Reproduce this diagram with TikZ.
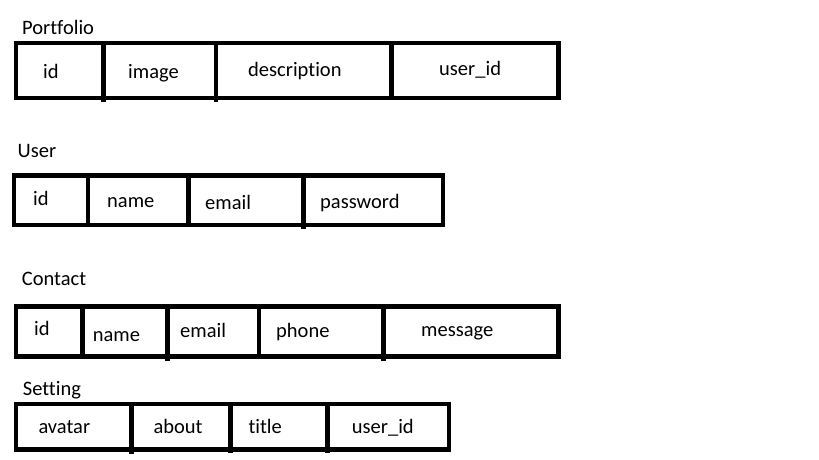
\documentclass[tikz,border=0pt]{standalone}
\usepackage{fontspec}
\setmainfont{Carlito}[Ligatures=NoCommon]
\tikzset{
  tbl/.style={line width=4.7pt},
  fld/.style={anchor=base west,inner sep=0pt,font=\fontsize{20.5}{24}\selectfont},
}
\begin{document}
\begin{tikzpicture}[x=1pt,y=-1pt]
            \useasboundingbox (0,0) rectangle (819,460);
            % Portfolio
            \node [fld] (portfolio) at(22,35) {Portfolio};
            \draw [tbl] (16,43) rectangle (558.5,98);
            \draw [tbl] (103.5,43)--(103.5,102);
            \draw [tbl] (216,43)--(216,102);
            \draw [tbl] (391.5,43)--(391.5,98);
            \node [fld] (pid) at(43,78) {id};
            \node [fld] (pimage) at(128,78) {image};
            \node [fld] (pdesc) at(248,77) {description};
            \node [fld] (puserid) at(439,75) {user\_id};
            % User
            \node [fld] (user) at(17.5,157) {User};
            \draw [tbl] (14,175.5) rectangle (443,225);
            \draw [tbl] (88,175.5)--(88,225);
            \draw [tbl] (188.5,175.5)--(188.5,225);
            \draw [tbl] (303.5,175.5)--(303.5,229);
            \node [fld] (uid) at(33,205) {id};
            \node [fld] (uname) at(107,207) {name};
            \node [fld] (uemail) at(205,209) {email};
            \node [fld] (upass) at(320,208) {password};
            % Contact
            \node [fld] (contact) at(21.7,285) {Contact};
            \draw [tbl] (16,306.5) rectangle (558.5,356.5);
            \draw [tbl] (82.3,306.5)--(82.3,356.5);
            \draw [tbl] (167.7,306.5)--(167.7,361);
            \draw [tbl] (259,306.5)--(259,356.5);
            \draw [tbl] (383.5,306.5)--(383.5,361);
            \node [fld] (cid) at(34,335) {id};
            \node [fld] (cname) at(92.7,341) {name};
            \node [fld] (cemail) at(180,337) {email};
            \node [fld] (cphone) at(276,337) {phone};
            \node [fld] (cmsg) at(421,336) {message};
            % Setting
            \node [fld] (setting) at(22.7,395) {Setting};
            \draw [tbl] (16,404) rectangle (449,449.7);
            \draw [tbl] (131.7,404)--(131.7,454);
            \draw [tbl] (230.3,404)--(230.3,453);
            \draw [tbl] (327.7,404)--(327.7,453);
            \node [fld] (savatar) at(38.3,433) {avatar};
            \node [fld] (sabout) at(153.3,433) {about};
            \node [fld] (stitle) at(248.3,433) {title};
            \node [fld] (suserid) at(351.7,433) {user\_id};
        \end{tikzpicture}
\end{document}
